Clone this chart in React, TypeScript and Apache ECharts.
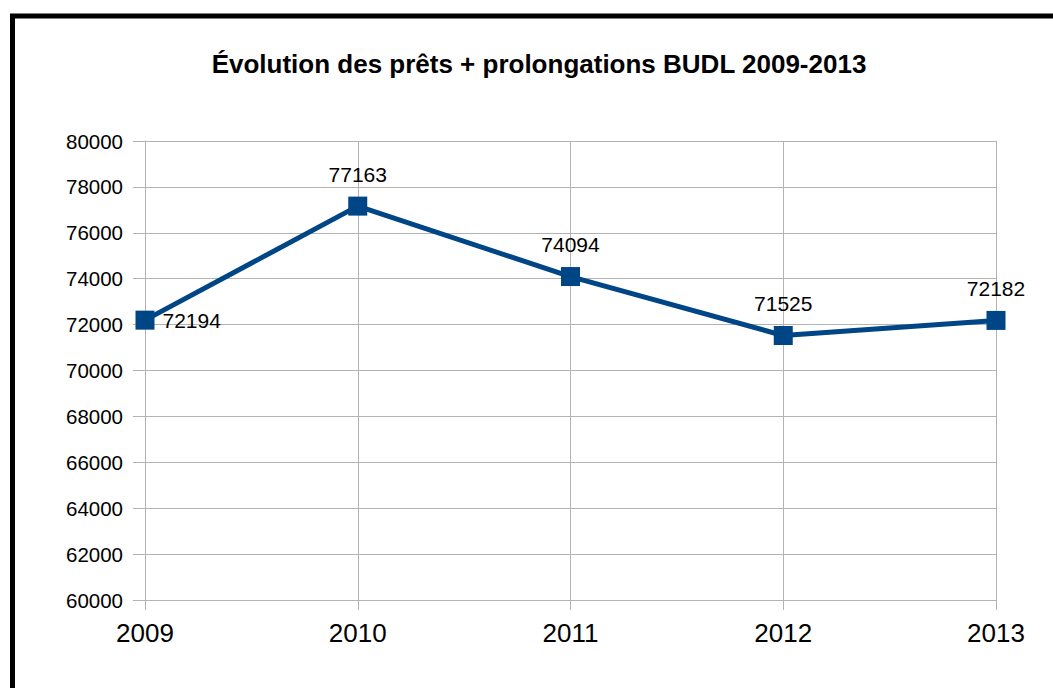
import React, { useEffect, useRef } from "react";
import * as echarts from "echarts";

const title = "Évolution des prêts + prolongations BUDL 2009-2013";
const years = ["2009", "2010", "2011", "2012", "2013"];
const loans = [72194, 77163, 74094, 71525, 72182];
const labelPositions = ["right", "top", "top", "top", "top"];

export default function App() {
  const ref = useRef<HTMLDivElement>(null);
  useEffect(() => {
    const chart = echarts.init(ref.current!, null, { renderer: "svg" });
    const font = "'Liberation Sans', Arial, sans-serif";
    chart.setOption({
      animation: false,
      backgroundColor: "#ffffff",
      title: {
        text: title,
        left: 534,
        top: 46,
        textAlign: "center",
        textStyle: { fontFamily: font, fontSize: 26, fontWeight: "bold", color: "#000" },
      },
      graphic: [
        {
          type: "rect",
          shape: { x: 12.5, y: 16, width: 1200, height: 800 },
          style: { fill: "none", stroke: "#000", lineWidth: 5 },
          silent: true,
        },
      ],
      grid: { left: 145, right: 57, top: 141, bottom: 88, containLabel: false },
      xAxis: {
        type: "category",
        data: years,
        boundaryGap: false,
        axisLine: { show: true, lineStyle: { color: "#b3b3b3", width: 1 } },
        axisTick: { show: true, length: 10, lineStyle: { color: "#b3b3b3" } },
        splitLine: { show: true, lineStyle: { color: "#b3b3b3", width: 1 } },
        axisLabel: { fontFamily: font, fontSize: 26, color: "#000", margin: 20 },
      },
      yAxis: {
        type: "value",
        min: 60000,
        max: 80000,
        interval: 2000,
        axisLine: { show: true, lineStyle: { color: "#b3b3b3", width: 1 } },
        axisTick: { show: true, length: 12, lineStyle: { color: "#b3b3b3" } },
        splitLine: { show: true, lineStyle: { color: "#b3b3b3", width: 1 } },
        axisLabel: {
          fontFamily: font,
          fontSize: 20.5,
          color: "#000",
          margin: 22,
          formatter: (v: number) => String(v),
        },
      },
      series: [
        {
          type: "line",
          data: loans.map((v, i) => ({
            value: v,
            label: { position: labelPositions[i] as any, distance: labelPositions[i] === "right" ? 8 : 12 },
          })),
          symbol: "rect",
          symbolSize: 19,
          lineStyle: { color: "#004586", width: 5 },
          itemStyle: { color: "#004586" },
          label: { show: true, fontFamily: font, fontSize: 21, color: "#000" },
        },
      ],
    });
    return () => chart.dispose();
  }, []);
  return (
    <div
      ref={ref}
      style={{ position: "fixed", left: 0, top: 0, width: 1053, height: 688, background: "#fff" }}
    />
  );
}
